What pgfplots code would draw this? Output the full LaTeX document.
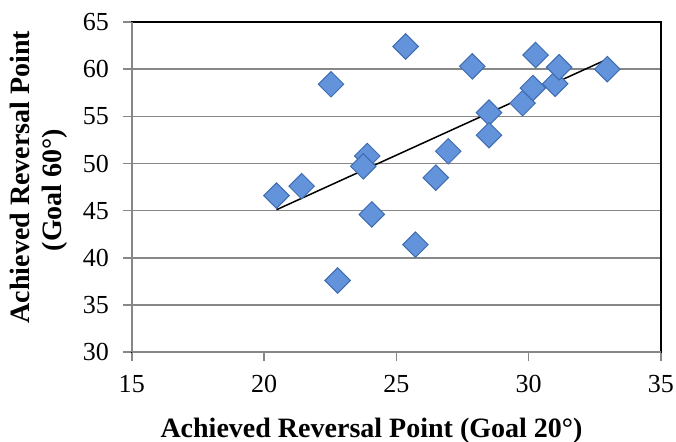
\documentclass[border=0pt]{standalone}
\usepackage{fontspec}
\setmainfont{Liberation Serif}
\usepackage{pgfplots}
\pgfplotsset{compat=1.18}
\definecolor{gridgray}{HTML}{878787}
\definecolor{mkfill}{HTML}{6393DA}
\definecolor{mkdraw}{HTML}{3D6CB0}
\begin{document}
\begin{tikzpicture}
\begin{axis}[
  at={(0,0)}, anchor=south west,
  scale only axis,
  width=264.5pt, height=165pt,
  xmin=15, xmax=35, ymin=30, ymax=65,
  xtick={15,20,25,30,35}, ytick={30,35,40,45,50,55,60,65},
  ymajorgrids, grid style={gridgray, line width=0.8pt},
  axis line style={black, line width=0.8pt},
  tick style={gridgray, line width=0.8pt},
  tick align=outside, major tick length=4.5pt,
  xtick pos=bottom, ytick pos=left,
  /pgf/number format/assume math mode=true,
  ticklabel style={font=\fontsize{13}{15}\selectfont},
  xticklabel style={yshift=-3.3pt},
  yticklabel style={xshift=-3.4pt},
  xlabel={\textbf{Achieved Reversal Point (Goal 20°)}},
  xlabel style={font=\fontsize{14}{16}\selectfont,
    at={([yshift=-42.5pt]axis description cs:0.453,0)}, anchor=base, inner sep=0pt},
  ylabel={\textbf{Achieved Reversal Point}\\\textbf{(Goal 60°)}\rule{13pt}{0pt}},
  ylabel style={font=\fontsize{14}{16}\selectfont, align=center, inner sep=0pt,
    at={([xshift=-31.85pt,yshift=5pt]axis description cs:0,0.5)}, anchor=south},
  clip=false,
]
\addplot[only marks, mark=square*, mark size=4.5pt,
  mark options={rotate=45, fill=mkfill, draw=mkdraw, line width=0.5pt}]
coordinates {
(20.47,46.6) (21.42,47.6) (22.53,58.4) (22.78,37.6) (23.90,50.8)
(23.75,49.7) (24.07,44.6) (25.35,62.4) (25.72,41.4) (26.49,48.5)
(26.96,51.3) (27.87,60.3) (28.50,55.4) (28.50,53.0) (29.77,56.4)
(30.16,58.0) (30.26,61.5) (31.00,58.45) (31.15,60.2) (32.97,60.0)
};
\addplot[black, line width=0.75pt, no marks] coordinates {(20.47,45.1) (33.0,61.1)};
\draw[gridgray, line width=0.8pt] (axis cs:15,30) -- (axis cs:15,65);
\draw[gridgray, line width=0.8pt] (axis cs:15,30) -- (axis cs:35,30);
\end{axis}
\pgfresetboundingbox
\useasboundingbox (-65.85pt,-44.5pt) rectangle (272pt,176pt);
\end{tikzpicture}
\end{document}
